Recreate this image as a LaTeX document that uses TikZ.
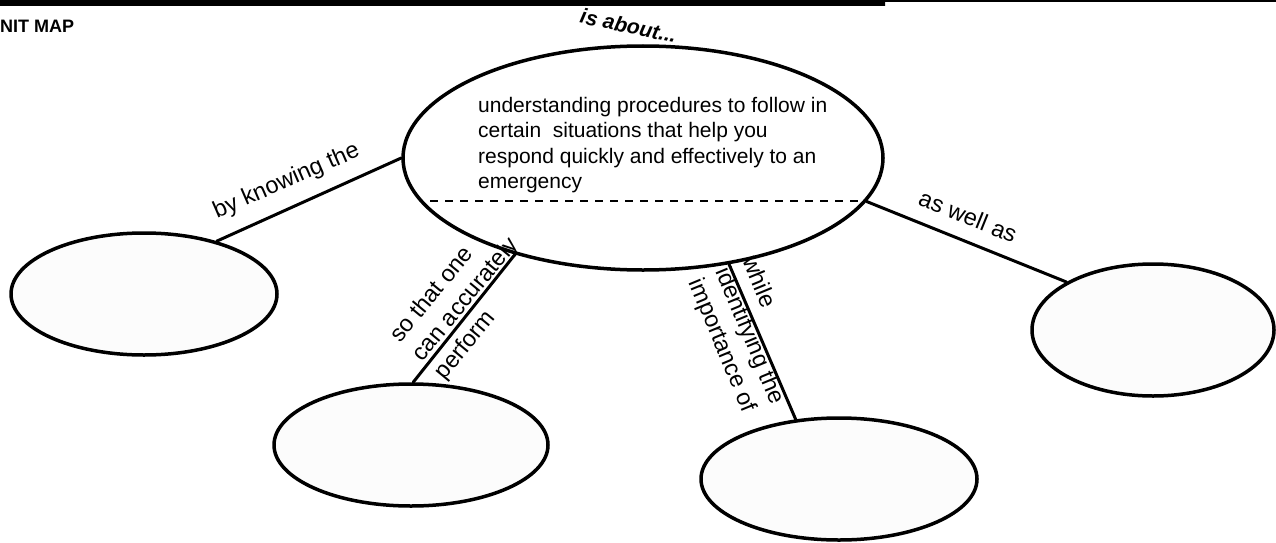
\documentclass[tikz,border=0pt]{standalone}
\usepackage{fontspec}
\setmainfont{Liberation Sans}
\usetikzlibrary{shapes.geometric}
\begin{document}
\begin{tikzpicture}[x=1pt,y=-1pt,line join=round,line cap=round,
	bubble/.style={draw,ellipse,line width=3.5pt,fill=black!1,inner sep=0pt},
	link/.style={line width=3pt},
	lab/.style={font=\fontsize{23.5}{29}\selectfont,inner sep=0pt,align=left}]
	\useasboundingbox (0,0) rectangle (1276,543);
	\fill [black] (0,0) rectangle (885,6) (885,0) rectangle (1276,2);
	\node [anchor=west,inner sep=0pt,font=\fontsize{18}{21}\selectfont\bfseries] (title) at (0,26) {NIT MAP};
	\node [bubble,fill=white,minimum width=480pt,minimum height=224pt] (main) at (643,158) {};
	\node [anchor=north west,align=left,inner sep=0pt,font=\fontsize{21}{25.5}\selectfont] (topic) at (478,97) {understanding procedures to follow in\\certain~ situations that help you\\respond quickly and effectively to an\\emergency};
	\coordinate (dl) at (430,201); \coordinate (dr) at (863,201);
	\draw [line width=1.5pt,line cap=butt,dash pattern=on 8pt off 7pt] (dl) -- (dr);
	\node [bubble,minimum width=266pt,minimum height=122pt] (left) at (144,294) {};
	\node [bubble,minimum width=274pt,minimum height=122pt] (perform) at (411,445) {};
	\node [bubble,minimum width=276pt,minimum height=122pt] (importance) at (839,479) {};
	\node [bubble,minimum width=242pt,minimum height=132pt] (right) at (1153,330) {};
	\draw [link] (main.180) -- (left.36);
	\draw [link] (main.217) -- (perform.88);
	\draw [link] (main.309.5) -- (importance.126);
	\draw [link] (main.349) -- (right.151);
	\node [anchor=base,rotate=-12,inner sep=0pt,font=\fontsize{21}{25}\selectfont\bfseries\itshape] (about) at (627,33) {is about...};
	\node [lab,anchor=base,rotate=23.5] (know) at (289,187) {by knowing the};
	\node [lab,anchor=base,rotate=-22] (well) at (965,224) {as well as};
	\node [lab,rotate=50.5] (accurate) at (466,300) {so that one\\can accurately\\perform};
	\node [lab,rotate=-67.5] (identify) at (749,336) {while\\identifying the\\importance of};
\end{tikzpicture}
\end{document}
